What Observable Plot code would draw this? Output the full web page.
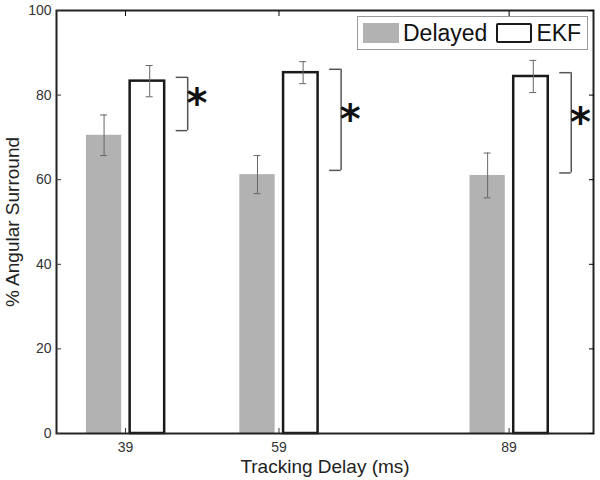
<!DOCTYPE html>
<html>
<head>
<meta charset="utf-8">
<script src="https://cdn.jsdelivr.net/npm/d3@7"></script>
<script src="https://cdn.jsdelivr.net/npm/@observablehq/plot@0.6"></script>
<style>
  html, body { margin: 0; padding: 0; background: #fff; }
  #wrap { position: relative; width: 600px; height: 480px; font-family: "Liberation Sans", Arial, sans-serif; }
  #legend { position: absolute; left: 357px; top: 16px; width: 229px; height: 32px; border: 1px solid #999; background: #fff;
            display: flex; align-items: center; font-size: 23px; color: #111; }
  .sw { width: 36px; height: 20px; box-sizing: border-box; }
</style>
</head>
<body>
<div id="wrap"></div>
<script>
// ---- data ----
const delays = [39, 59, 89];
const tickLabelsX = ["39", "59", "89"];
const delayedMean = [70.5, 61.2, 61.0];
const delayedErr = [4.8, 4.5, 5.3];
const ekfMean = [83.3, 85.3, 84.4];
const ekfErr = [3.7, 2.6, 3.8];
const bracketTop = [84.2, 86.1, 85.3];
const bracketBottom = [71.6, 62.2, 61.6];
const sigLabels = ["*", "*", "*"];
const yTicks = [0, 20, 40, 60, 80, 100];
const seriesNames = ["Delayed", "EKF"];

const delayedRows = delays.map((d, i) => ({delay: d, mean: delayedMean[i], err: delayedErr[i]}));
const ekfRows = delays.map((d, i) => ({delay: d, mean: ekfMean[i], err: ekfErr[i]}));
const sigRows = delays.map((d, i) => ({delay: d, top: bracketTop[i], bottom: bracketBottom[i], label: sigLabels[i]}));

// layout offsets (in x-units)
const dLo = -5.1, dHi = -0.5, eLo = 0.6, eHi = 5.1;
const dC = (dLo + dHi) / 2, eC = (eLo + eHi) / 2 + 0.3;
const cap = 0.45, brX = 8.1, brLen = 1.5, starX = 9.3;
const gray = "#b2b2b2", errCol = "#666", brCol = "#555";

const chart = Plot.plot({
  width: 600, height: 480,
  marginLeft: 56, marginRight: 7, marginTop: 10, marginBottom: 47,
  style: {fontFamily: "Liberation Sans, Arial, sans-serif", background: "#fff"},
  x: {domain: [30, 100]},
  y: {domain: [0, 100]},
  marks: [
    Plot.rectY(delayedRows, {x1: d => d.delay + dLo, x2: d => d.delay + dHi, y1: 0, y2: "mean", fill: gray}),
    Plot.rectY(ekfRows, {x1: d => d.delay + eLo, x2: d => d.delay + eHi, y1: 0, y2: "mean", fill: "#fff", stroke: "#1a1a1a", strokeWidth: 2.5}),
    // error bars
    Plot.ruleX(delayedRows, {x: d => d.delay + dC, y1: d => d.mean - d.err, y2: d => d.mean + d.err, stroke: errCol, strokeWidth: 1}),
    Plot.ruleY(delayedRows, {y: d => d.mean - d.err, x1: d => d.delay + dC - cap, x2: d => d.delay + dC + cap, stroke: errCol}),
    Plot.ruleY(delayedRows, {y: d => d.mean + d.err, x1: d => d.delay + dC - cap, x2: d => d.delay + dC + cap, stroke: errCol}),
    Plot.ruleX(ekfRows, {x: d => d.delay + eC, y1: d => d.mean - d.err, y2: d => d.mean + d.err, stroke: errCol, strokeWidth: 1}),
    Plot.ruleY(ekfRows, {y: d => d.mean - d.err, x1: d => d.delay + eC - cap, x2: d => d.delay + eC + cap, stroke: errCol}),
    Plot.ruleY(ekfRows, {y: d => d.mean + d.err, x1: d => d.delay + eC - cap, x2: d => d.delay + eC + cap, stroke: errCol}),
    // significance brackets
    Plot.ruleX(sigRows, {x: d => d.delay + brX, y1: "bottom", y2: "top", stroke: brCol, strokeWidth: 1.5}),
    Plot.ruleY(sigRows, {y: "top", x1: d => d.delay + brX - brLen, x2: d => d.delay + brX, stroke: brCol, strokeWidth: 1.5}),
    Plot.ruleY(sigRows, {y: "bottom", x1: d => d.delay + brX - brLen, x2: d => d.delay + brX, stroke: brCol, strokeWidth: 1.5}),
    Plot.text(sigRows, {x: d => d.delay + starX, y: d => (d.top + d.bottom) / 2 + 1.5, text: "label",
      fontSize: 40, fontWeight: "bold", fill: "#111", dy: 7, fontFamily: "DejaVu Sans"}),
    // frame & axes
    Plot.frame({stroke: "#222", strokeWidth: 2}),
    Plot.axisX({ticks: delays, tickFormat: (d, i) => tickLabelsX[i], tickSize: -5, tickPadding: 14, fontSize: 14, color: "#333", label: null, anchor: "bottom"}),
    Plot.axisX({ticks: delays, tickSize: -5, anchor: "top", label: null, text: null}),
    Plot.axisY({ticks: yTicks, tickSize: -5, tickPadding: 10, fontSize: 14, color: "#333", label: null, anchor: "left"}),
    Plot.axisY({ticks: yTicks, tickSize: -5, anchor: "right", label: null, text: null}),
    Plot.text(["% Angular Surround"], {frameAnchor: "left", text: d => d, rotate: -90, dx: -44, textAnchor: "middle", lineAnchor: "middle", fontSize: 19, fill: "#222"}),
    Plot.text(["Tracking Delay (ms)"], {frameAnchor: "bottom", text: d => d, dy: 39, fontSize: 19, fill: "#222"})
  ]
});

const wrap = document.getElementById("wrap");
wrap.appendChild(chart);

const legend = document.createElement("div");
legend.id = "legend";
legend.innerHTML =
  `<div class="sw" style="background:${gray};margin-left:5px"></div>` +
  `<span style="margin-left:4px">${seriesNames[0]}</span>` +
  `<div class="sw" style="background:#fff;border:2px solid #1a1a1a;border-radius:2px;margin-left:9px"></div>` +
  `<span style="margin-left:4px">${seriesNames[1]}</span>`;
wrap.appendChild(legend);
</script>
</body>
</html>
